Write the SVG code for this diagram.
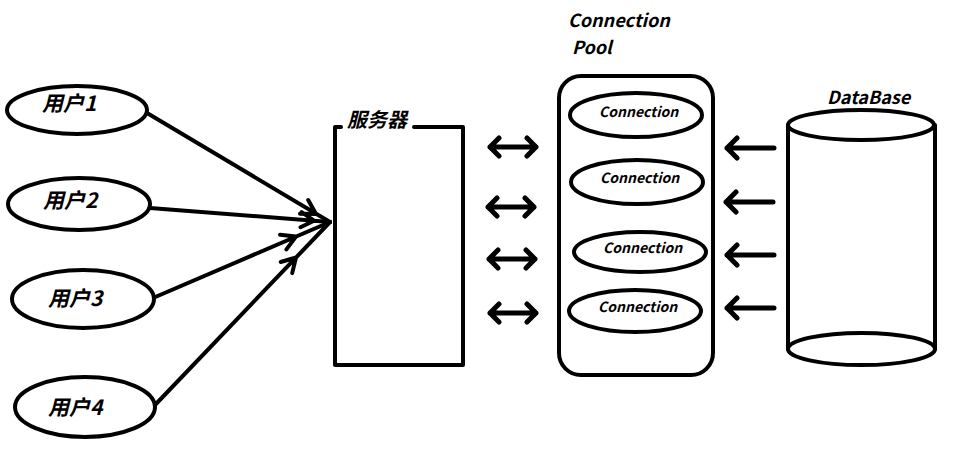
<svg xmlns="http://www.w3.org/2000/svg" width="958" height="449" viewBox="0 0 958 449">
<style>
.s{fill:none;stroke:#000;stroke-width:4;stroke-linecap:round;stroke-linejoin:round}
.a{stroke-width:5}
.e{fill:#fff;stroke:#000;stroke-width:4}
.t{font-family:"Noto Sans CJK SC","Liberation Sans",sans-serif;font-weight:bold;font-style:italic;fill:#000}
.u{font-size:21px}
.c{font-size:14px}
.l{font-size:18px}
</style>
<rect width="958" height="449" fill="#fff"/>
<g id="connectors">
<path class="s" d="M147 113L330 222M300 213.8L316 214L308.2 200"/>
<path class="s" d="M150 208L330 222M301.6 212.2L314 220.7L300.5 227.2"/>
<path class="s" d="M153 298L330 222M280 234.7L296 236.6L286.4 249.4"/>
<path class="s" d="M155 405L330 222M280.7 262L296 257.5L292.2 273.1"/>
<path class="s a" d="M490 147H536M499 138L490 147L499 156M527 138L536 147L527 156"/>
<path class="s a" d="M488 207H534M497 198L488 207L497 216M525 198L534 207L525 216"/>
<path class="s a" d="M489 259H535M498 250L489 259L498 268M526 250L535 259L526 268"/>
<path class="s a" d="M490 313H536M499 304L490 313L499 322M527 304L536 313L527 322"/>
<path class="s a" d="M727 148H774M737 138L727 148L737 158"/>
<path class="s a" d="M726 202H773M736 192L726 202L736 212"/>
<path class="s a" d="M727 255H774M737 245L727 255L737 265"/>
<path class="s a" d="M727 308H774M737 298L727 308L737 318"/>
</g>
<g id="user1"><ellipse class="e" cx="77" cy="110" rx="70" ry="24"/><text class="t u" x="42" y="111">用户1</text></g>
<g id="user2"><ellipse class="e" cx="79" cy="204" rx="71" ry="26"/><text class="t u" x="43" y="208">用户2</text></g>
<g id="user3"><ellipse class="e" cx="83" cy="299" rx="71" ry="29"/><text class="t u" x="48" y="306">用户3</text></g>
<g id="user4"><ellipse class="e" cx="85" cy="407" rx="70" ry="30"/><text class="t u" x="48" y="415">用户4</text></g>
<g id="server">
<path class="s" stroke-linecap="butt" d="M341 127H335V365H463V127H414"/>
<text class="t" font-size="20" x="347" y="127">服务器</text>
</g>
<g id="pool">
<rect class="s" x="559" y="76" width="154" height="299" rx="22"/>
<text class="t l" x="568" y="27">Connection</text>
<text class="t l" x="572" y="54">Pool</text>
</g>
<g id="conn1"><ellipse class="e" cx="636" cy="115" rx="66" ry="22"/><text class="t c" x="599" y="117">Connection</text></g>
<g id="conn2"><ellipse class="e" cx="637" cy="182" rx="66" ry="22"/><text class="t c" x="600" y="183">Connection</text></g>
<g id="conn3"><ellipse class="e" cx="640" cy="252" rx="66" ry="20"/><text class="t c" x="603" y="253">Connection</text></g>
<g id="conn4"><ellipse class="e" cx="635" cy="311" rx="66" ry="21"/><text class="t c" x="598" y="312">Connection</text></g>
<g id="database">
<path class="s" d="M788 125V349M935 125V349"/>
<ellipse class="e" cx="861" cy="125" rx="73" ry="15"/>
<path class="s" d="M788 349A73 16 0 0 0 935 349A73 16 0 0 0 788 349"/>
<text class="t l" x="827" y="104">DataBase</text>
</g>
</svg>
